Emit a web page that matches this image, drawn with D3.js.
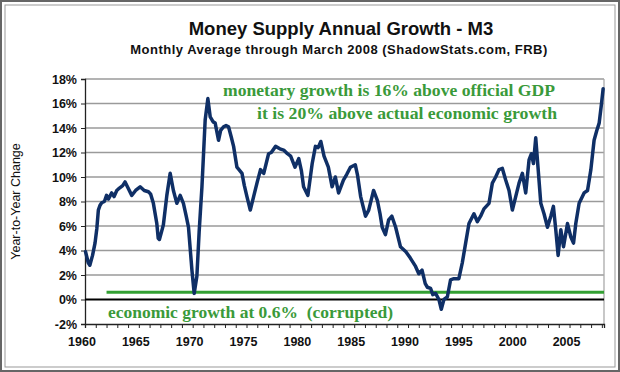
<!DOCTYPE html>
<html>
<head>
<meta charset="utf-8">
<script src="https://cdn.jsdelivr.net/npm/d3@7"></script>
<style>
    body { margin: 0; background: #fff; }
    svg { display: block; }
</style>
</head>
<body>
<div class="chart"></div>
<script>
// data (decimal year, % year-to-year change)
var years = [
    1960.05, 1960.3, 1960.45, 1960.7, 1960.93, 1961.1, 1961.24, 1961.4, 1961.55, 1961.8,
    1962.0, 1962.17, 1962.48, 1962.7, 1962.95, 1963.2, 1963.5, 1963.72, 1964.0, 1964.34,
    1964.7, 1965.12, 1965.5, 1965.89, 1966.1, 1966.35, 1966.67, 1966.8, 1966.91, 1967.1,
    1967.28, 1967.6, 1967.91, 1968.21, 1968.53, 1968.84, 1969.14, 1969.4, 1969.61, 1969.93,
    1970.14, 1970.39, 1970.6, 1970.86, 1971.16, 1971.41, 1971.63, 1971.9, 1972.09, 1972.4,
    1972.6, 1972.87, 1973.1, 1973.33, 1973.6, 1973.8, 1974.11, 1974.3, 1974.58, 1974.8,
    1975.04, 1975.35, 1975.66, 1976.0, 1976.3, 1976.6, 1977.05, 1977.3, 1977.7, 1978.1,
    1978.45, 1978.8, 1979.1, 1979.5, 1979.85, 1980.1, 1980.3, 1980.7, 1981.1, 1981.4,
    1981.65, 1981.9, 1982.2, 1982.6, 1982.95, 1983.25, 1983.55, 1984.0, 1984.3, 1984.65,
    1985.1, 1985.3, 1985.6, 1986.05, 1986.35, 1986.6, 1986.8, 1987.15, 1987.4, 1987.6,
    1987.9, 1988.2, 1988.5, 1988.85, 1989.3, 1989.8, 1990.2, 1990.7, 1991.0, 1991.3,
    1991.6, 1991.8, 1992.1, 1992.3, 1992.56, 1992.87, 1993.09, 1993.33, 1993.65, 1993.95,
    1994.26, 1994.72, 1995.04, 1995.35, 1995.66, 1996.12, 1996.44, 1996.74, 1997.05, 1997.52,
    1997.83, 1998.14, 1998.45, 1998.76, 1999.07, 1999.38, 1999.69, 2000.0, 2000.31, 2000.62,
    2000.93, 2001.24, 2001.46, 2001.65, 2001.86, 2002.07, 2002.33, 2002.63, 2002.95, 2003.26,
    2003.5, 2003.72, 2003.94, 2004.19, 2004.44, 2004.81, 2005.12, 2005.37, 2005.58, 2005.89,
    2006.35, 2006.67, 2006.98, 2007.28, 2007.53, 2007.75, 2007.97, 2008.12
];
var m3Growth = [
    3.9, 3.0, 2.8, 3.6, 4.6, 5.8, 7.3, 7.7, 7.9, 8.0,
    8.5, 8.2, 8.7, 8.4, 8.9, 9.1, 9.3, 9.6, 9.1, 8.5,
    8.9, 9.2, 8.9, 8.8, 8.6, 7.85, 6.2, 5.0, 4.9, 5.5,
    6.1, 8.5, 10.3, 8.9, 7.85, 8.5, 7.85, 6.8, 5.9, 2.4,
    0.5, 1.9, 5.5, 9.2, 14.65, 16.4, 14.9, 14.5, 14.4, 13.0,
    13.8, 14.1, 14.2, 14.1, 13.2, 12.5, 10.8, 10.6, 10.3, 9.3,
    8.4, 7.3, 8.4, 9.6, 10.6, 10.3, 11.9, 12.0, 12.5, 12.3,
    12.2, 11.9, 11.7, 10.8, 11.5, 10.5, 9.2, 8.5, 11.1, 12.5,
    12.4, 12.9, 11.7, 10.8, 9.2, 10.0, 8.7, 9.75, 10.2, 10.8,
    11.0, 10.2, 8.4, 6.8, 7.3, 8.2, 8.9, 8.1, 7.0, 5.9,
    5.3, 6.5, 6.8, 5.9, 4.3, 3.9, 3.4, 2.7, 2.1, 2.4,
    1.3, 1.0, 0.9, 0.4, 0.5, 0.0, -0.8, 0.0, 0.2, 1.6,
    1.7, 1.7, 3.0, 4.6, 6.2, 7.0, 6.35, 6.8, 7.4, 7.85,
    9.5, 10.0, 10.6, 10.7, 9.75, 8.9, 7.3, 8.4, 9.5, 10.3,
    8.7, 11.4, 11.9, 11.1, 13.2, 10.8, 7.85, 7.0, 5.9, 6.8,
    7.6, 5.7, 3.6, 5.7, 4.3, 6.2, 5.1, 4.6, 6.2, 7.85,
    8.7, 8.9, 10.6, 13.0, 13.8, 14.4, 16.0, 17.2
];
var gdpLine = { value: 0.6, from: 1962.0, to: 2008.2 };
var yTicks = [-2, 0, 2, 4, 6, 8, 10, 12, 14, 16, 18];
var xLabels = [1960, 1965, 1970, 1975, 1980, 1985, 1990, 1995, 2000, 2005];
var xMinorTicks = d3.range(1960, 2009, 1);

var width = 620,
    height = 372,
    margin = { top: 79, right: 16, bottom: 48, left: 85 };

var svg = d3.select(".chart")
            .append("svg")
            .attr("width", width)
            .attr("height", height);

// outer frame (double line)
svg.append("rect")
    .attr("x", 1).attr("y", 1)
    .attr("width", width - 2).attr("height", height - 2)
    .attr("fill", "none").attr("stroke", "#666").attr("stroke-width", 2);
svg.append("rect")
    .attr("x", 5).attr("y", 5)
    .attr("width", width - 10).attr("height", height - 10)
    .attr("fill", "none").attr("stroke", "#999").attr("stroke-width", 1);

var x = d3.scaleLinear()
          .domain([1960, 2008.2])
          .range([margin.left, width - margin.right]);

var y = d3.scaleLinear()
          .domain([-2, 18])
          .range([height - margin.bottom, margin.top]);

// grid lines
svg.append("g")
    .selectAll("line")
    .data(yTicks.filter(function (d) { return d > -2 && d !== 0; }))
    .enter()
    .append("line")
    .attr("x1", x(1960)).attr("x2", x(2008.2))
    .attr("y1", function (d) { return y(d); })
    .attr("y2", function (d) { return y(d); })
    .attr("stroke", "#9a9a9a")
    .attr("stroke-width", 1.3);

// right border
svg.append("line")
    .attr("x1", x(2008.2)).attr("x2", x(2008.2))
    .attr("y1", y(18)).attr("y2", y(-2))
    .attr("stroke", "#aaa").attr("stroke-width", 1.3);

// y axis
var yAxis = d3.axisLeft(y)
              .tickValues(yTicks)
              .tickSize(4)
              .tickPadding(4)
              .tickFormat(function (d) { return d + "%"; });

var yG = svg.append("g")
            .attr("transform", "translate(" + margin.left + ",0)")
            .call(yAxis);
yG.select(".domain").attr("stroke", "#222").attr("stroke-width", 1.3);
yG.selectAll(".tick line").attr("stroke", "#222");
yG.selectAll("text")
    .attr("font-family", "Liberation Sans, Arial, sans-serif")
    .attr("font-weight", "bold")
    .attr("font-size", 12.5)
    .attr("fill", "#111");

// x axis at the bottom (-2%)
var xAxis = d3.axisBottom(x)
              .tickValues(xMinorTicks)
              .tickSize(4)
              .tickFormat("");

var xG = svg.append("g")
            .attr("transform", "translate(0," + y(-2) + ")")
            .call(xAxis);
xG.select(".domain").attr("stroke", "#222").attr("stroke-width", 1.3);
xG.selectAll(".tick line").attr("stroke", "#222");

svg.append("g")
    .selectAll("text")
    .data(xLabels)
    .enter()
    .append("text")
    .attr("x", function (d) { return x(d) - 3; })
    .attr("y", y(-2) + 22)
    .attr("text-anchor", "middle")
    .attr("font-family", "Liberation Sans, Arial, sans-serif")
    .attr("font-weight", "bold")
    .attr("font-size", 12.5)
    .attr("fill", "#111")
    .text(function (d) { return d; });

// zero line
svg.append("line")
    .attr("x1", x(1960)).attr("x2", x(2008.2))
    .attr("y1", y(0)).attr("y2", y(0))
    .attr("stroke", "#000").attr("stroke-width", 2);

// official GDP line
svg.append("line")
    .attr("x1", x(gdpLine.from)).attr("x2", x(gdpLine.to))
    .attr("y1", y(gdpLine.value)).attr("y2", y(gdpLine.value))
    .attr("stroke", "#33a033").attr("stroke-width", 3);

// M3 series
var points = years.map(function (d, i) { return [d, m3Growth[i]]; });
var line = d3.line()
             .x(function (d) { return x(d[0]); })
             .y(function (d) { return y(d[1]); });

svg.append("path")
    .datum(points)
    .attr("d", line)
    .attr("fill", "none")
    .attr("stroke", "#0f2f66")
    .attr("stroke-width", 3.5)
    .attr("stroke-linejoin", "round")
    .attr("stroke-linecap", "round");

// titles
svg.append("text")
    .attr("x", 341).attr("y", 35)
    .attr("text-anchor", "middle")
    .attr("font-family", "Liberation Sans, Arial, sans-serif")
    .attr("font-weight", "bold")
    .attr("font-size", 18.5)
    .attr("fill", "#111")
    .text("Money Supply Annual Growth - M3");

svg.append("text")
    .attr("x", 339).attr("y", 54)
    .attr("text-anchor", "middle")
    .attr("font-family", "Liberation Sans, Arial, sans-serif")
    .attr("font-weight", "bold")
    .attr("font-size", 13)
    .attr("letter-spacing", 0.5)
    .attr("fill", "#111")
    .text("Monthly Average through March 2008 (ShadowStats.com, FRB)");

svg.append("text")
    .attr("transform", "translate(20," + y(8) + ") rotate(-90)")
    .attr("text-anchor", "middle")
    .attr("font-family", "Liberation Sans, Arial, sans-serif")
    .attr("font-size", 12.5)
    .attr("fill", "#111")
    .text("Year-to-Year Change");

// annotations
var notes = [
    { text: "monetary growth is 16% above official GDP", x: 223, y: 96, len: 332 },
    { text: "it is 20% above actual economic growth", x: 257, y: 119, len: 300 },
    { text: "economic growth at 0.6%  (corrupted)", x: 108, y: 318, len: 285 }
];
svg.append("g")
    .selectAll("text")
    .data(notes)
    .enter()
    .append("text")
    .attr("x", function (d) { return d.x; })
    .attr("y", function (d) { return d.y; })
    .attr("textLength", function (d) { return d.len; })
    .attr("lengthAdjust", "spacingAndGlyphs")
    .attr("font-family", "Liberation Serif, Times New Roman, serif")
    .attr("font-weight", "bold")
    .attr("font-size", 16)
    .attr("fill", "#3a9a3a")
    .style("white-space", "pre")
    .text(function (d) { return d.text; });
</script>
</body>
</html>
